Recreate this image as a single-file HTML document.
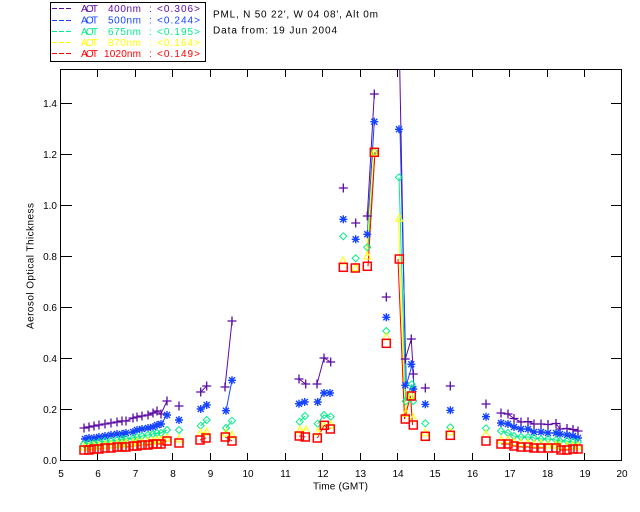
<!DOCTYPE html>
<html><head><meta charset="utf-8"><style>
html,body{margin:0;padding:0;background:#fff;}
svg{display:block;}
text{font-family:"Liberation Sans",sans-serif;font-size:10px;}
</style></head><body>
<svg width="640" height="512" viewBox="0 0 640 512" xmlns="http://www.w3.org/2000/svg">
<defs>
<path id="mP" d="M-4.5,0H4.5M0,-4.5V4.5" stroke="#5c0aa5" stroke-width="1.3" fill="none"/>
<path id="mB" d="M-4,0H4M0,-4V4M-3,-3L3,3M-3,3L3,-3" stroke="#1444ff" stroke-width="1.4" fill="none"/>
<path id="mG" d="M0,-3.5L3.5,0L0,3.5L-3.5,0Z" stroke="#00ee88" stroke-width="1" fill="none"/>
<path id="mY" d="M0,-4L3.5,3H-3.5Z" stroke="#ffff00" stroke-width="1" fill="none"/>
<rect id="mR" x="-4" y="-4" width="8" height="8" stroke="#ff0000" stroke-width="1.5" fill="none"/>
<clipPath id="clip"><rect x="60" y="69" width="562" height="392"/></clipPath>
</defs>
<rect width="640" height="512" fill="#fff"/>

<!-- legend -->
<rect x="50.5" y="2.5" width="155" height="59" fill="none" stroke="#000" stroke-width="1"/>
<g stroke-width="1" stroke-dasharray="5,2">
<line x1="52" y1="8.5" x2="72" y2="8.5" stroke="#5c0aa5"/>
<line x1="52" y1="20.5" x2="72" y2="20.5" stroke="#1444ff"/>
<line x1="52" y1="31.5" x2="72" y2="31.5" stroke="#00ee88"/>
<line x1="52" y1="42.5" x2="72" y2="42.5" stroke="#ffff00"/>
<line x1="52" y1="53.5" x2="72" y2="53.5" stroke="#ff0000"/>
</g>
<g>
<text x="81" y="12" fill="#5c0aa5" textLength="17">AOT</text><text x="108" y="12" fill="#5c0aa5" textLength="33">400nm</text><text x="149" y="12" fill="#5c0aa5">:</text><text x="157" y="12" fill="#5c0aa5" textLength="43">&lt;0.306&gt;</text>
<text x="81" y="23.5" fill="#1444ff" textLength="17">AOT</text><text x="108" y="23.5" fill="#1444ff" textLength="33">500nm</text><text x="149" y="23.5" fill="#1444ff">:</text><text x="157" y="23.5" fill="#1444ff" textLength="43">&lt;0.244&gt;</text>
<text x="81" y="35" fill="#00ee88" textLength="17">AOT</text><text x="108" y="35" fill="#00ee88" textLength="33">675nm</text><text x="149" y="35" fill="#00ee88">:</text><text x="157" y="35" fill="#00ee88" textLength="43">&lt;0.195&gt;</text>
<text x="81" y="46" fill="#ffff00" textLength="17">AOT</text><text x="108" y="46" fill="#ffff00" textLength="33">870nm</text><text x="149" y="46" fill="#ffff00">:</text><text x="157" y="46" fill="#ffff00" textLength="43">&lt;0.164&gt;</text>
<text x="81" y="57" fill="#ff0000" textLength="17">AOT</text><text x="104" y="57" fill="#ff0000" textLength="37">1020nm</text><text x="149" y="57" fill="#ff0000">:</text><text x="157" y="57" fill="#ff0000" textLength="43">&lt;0.149&gt;</text>
</g>
<text x="213" y="17.5" fill="#000" textLength="165">PML, N 50 22', W 04 08', Alt 0m</text>
<text x="213" y="33.5" fill="#000" textLength="124">Data from: 19 Jun 2004</text>

<!-- axes -->
<g stroke="#000" stroke-width="1" shape-rendering="crispEdges" fill="none">
<rect x="60.5" y="69.5" width="561" height="391"/>
<path d="M60,460.5H72M60,409.5H72M60,358.5H72M60,307.5H72M60,256.5H72M60,205.5H72M60,154.5H72M60,103.5H72"/>
<path d="M622,460.5H611M622,409.5H611M622,358.5H611M622,307.5H611M622,256.5H611M622,205.5H611M622,154.5H611M622,103.5H611"/>
<path d="M97.5,461V453M135.5,461V453M172.5,461V453M210.5,461V453M247.5,461V453M285.5,461V453M322.5,461V453M360.5,461V453M397.5,461V453M434.5,461V453M472.5,461V453M509.5,461V453M547.5,461V453M584.5,461V453"/>
<path d="M97.5,69V77M135.5,69V77M172.5,69V77M210.5,69V77M247.5,69V77M285.5,69V77M322.5,69V77M360.5,69V77M397.5,69V77M434.5,69V77M472.5,69V77M509.5,69V77M547.5,69V77M584.5,69V77"/>
</g>
<g fill="#000" text-anchor="end">
<text x="57" y="464">0.0</text>
<text x="57" y="413">0.2</text>
<text x="57" y="362">0.4</text>
<text x="57" y="311">0.6</text>
<text x="57" y="260">0.8</text>
<text x="57" y="209">1.0</text>
<text x="57" y="158">1.2</text>
<text x="57" y="107">1.4</text>
</g>
<g fill="#000" text-anchor="middle">
<text x="61" y="477">5</text>
<text x="98" y="477">6</text>
<text x="135.5" y="477">7</text>
<text x="173" y="477">8</text>
<text x="210.5" y="477">9</text>
<text x="248" y="477">10</text>
<text x="285.5" y="477">11</text>
<text x="323" y="477">12</text>
<text x="360.5" y="477">13</text>
<text x="398" y="477">14</text>
<text x="435" y="477">15</text>
<text x="472.5" y="477">16</text>
<text x="510" y="477">17</text>
<text x="547.5" y="477">18</text>
<text x="585" y="477">19</text>
<text x="622" y="477">20</text>
<text x="340.5" y="489.5" textLength="55">Time (GMT)</text>
</g>
<text transform="translate(33.5,266) rotate(-90)" text-anchor="middle" fill="#000" textLength="126">Aerosol Optical Thickness</text>

<g clip-path="url(#clip)" fill="none" stroke-width="1">
<g stroke="#5c0aa5">
<polyline points="84,428 89,427 94,426 99,425 105,424 111,423 117,422 122,421 126,421 133,418 137,417 142,416 148,415 153,413 157,411 161,414 167,401"/>
<polyline points="200.7,392 206.7,386"/>
<polyline points="225,387 232,321"/>
<polyline points="299,379 305.7,384"/>
<polyline points="317,384 324,358 330.7,362"/>
<polyline points="367.3,216 374.3,94"/>
<polyline points="399,30 405.3,359 411.3,339 413.3,374"/>
<polyline points="501,413 508,414 514,418.5 521,422 528,421.7 534,424 541,424 548,424.5 556,423.5 560,429 567,428.5 573,429.5 578,431"/>
</g>
<g stroke="#1444ff">
<polyline points="85,439 89,438 94,438 99,437 105,436 111,435 117,434 122,434 126,433 133,432 137,430 142,429 148,428 153,427 157,425 161,424 167,415"/>
<polyline points="200.7,409 206.7,405"/>
<polyline points="226,410.7 232,380.3"/>
<polyline points="299,403.7 304.7,402"/>
<polyline points="317.7,402 324,393 330,393"/>
<polyline points="367.3,234.3 374.3,121.7"/>
<polyline points="400,129.3 406.3,385.3 412.3,364.3 414.3,389"/>
<polyline points="501,423 508,424 514,427 521,429 528,429 534,432 541,432 548,433 556,433 560,434 567,435 573,436 578,438"/>
</g>
<g stroke="#00ee88">
<polyline points="84,444 89,443 94,443 99,442 105,441 111,441 117,440 122,439 126,439 133,438 137,437 142,436 148,435 153,434 157,433 161,433 167,430"/>
<polyline points="200.7,425.7 206.7,420"/>
<polyline points="226,428 232,420.7"/>
<polyline points="299.7,421.7 305,416"/>
<polyline points="317.7,423.7 324,415 330.7,416.7"/>
<polyline points="368,247.3 375,152"/>
<polyline points="399,177.3 405.7,401.3 411.7,384.3 413.3,401"/>
<polyline points="501,431 508,433 514,436 521,437 528,437 534,438 541,439 548,439 556,440 560,441 567,441 573,442 578,442"/>
</g>
<g stroke="#ffff00">
<polyline points="84,447 89,447 94,446 99,446 105,445 111,445 117,444 122,444 126,443 133,443 137,442 142,442 148,441 153,441 157,440 161,440 167,438"/>
<polyline points="200.7,433 206.7,432"/>
<polyline points="226,433 232,435"/>
<polyline points="300,430 306,430"/>
<polyline points="318,431.7 324,426 331,425"/>
<polyline points="366.5,256 373.5,152"/>
<polyline points="398.5,218.3 404.9,413.3 410.2,395.3 412.5,418.3"/>
<polyline points="501,440 508,440 514,442 521,443 528,443 534,444 541,444 548,445 556,445 560,446 567,446 573,446 578,446"/>
</g>
<g stroke="#ff0000">
<polyline points="84,450 89,450 94,449 99,449 105,448 111,448 117,447 122,447 126,447 133,446 137,446 142,445 148,445 153,444 157,444 161,444 167,441"/>
<polyline points="200,440 206,438"/>
<polyline points="225.3,437 232,441"/>
<polyline points="299.3,436 305.3,437"/>
<polyline points="317.3,438 324.3,425.3 330.3,429"/>
<polyline points="368,266.3 375,152.3"/>
<polyline points="398,259 404.5,419 410.5,396 412.5,425"/>
<polyline points="501,444 508,444 514,446 521,447 528,447 534,448 541,448 548,448 556,448 561,450 567,450 573,449 578,449"/>
</g>
</g>

<g>
<use href="#mP" x="84" y="428"/><use href="#mP" x="89" y="427"/><use href="#mP" x="94" y="426"/><use href="#mP" x="99" y="425"/><use href="#mP" x="105" y="424"/><use href="#mP" x="111" y="423"/><use href="#mP" x="117" y="422"/><use href="#mP" x="122" y="421"/><use href="#mP" x="126" y="421"/><use href="#mP" x="133" y="418"/><use href="#mP" x="137" y="417"/><use href="#mP" x="142" y="416"/><use href="#mP" x="148" y="415"/><use href="#mP" x="153" y="413"/><use href="#mP" x="157" y="411"/><use href="#mP" x="161" y="414"/><use href="#mP" x="167" y="401"/>
<use href="#mP" x="179" y="406"/><use href="#mP" x="200.7" y="392"/><use href="#mP" x="206.7" y="386"/><use href="#mP" x="225" y="387"/><use href="#mP" x="232" y="321"/>
<use href="#mP" x="299" y="379"/><use href="#mP" x="305.7" y="384"/><use href="#mP" x="317" y="384"/><use href="#mP" x="324" y="358"/><use href="#mP" x="330.7" y="362"/>
<use href="#mP" x="343.3" y="188"/><use href="#mP" x="355.7" y="223"/><use href="#mP" x="367.3" y="216"/><use href="#mP" x="374.3" y="94"/><use href="#mP" x="386.3" y="297"/>
<use href="#mP" x="405.3" y="359"/><use href="#mP" x="411.3" y="339"/><use href="#mP" x="413.3" y="374"/>
<use href="#mP" x="425.3" y="388"/><use href="#mP" x="450.3" y="386"/><use href="#mP" x="486" y="404"/>
<use href="#mP" x="501" y="413"/><use href="#mP" x="508" y="414"/><use href="#mP" x="514" y="418.5"/><use href="#mP" x="521" y="422"/><use href="#mP" x="528" y="421.7"/><use href="#mP" x="534" y="424"/><use href="#mP" x="541" y="424"/><use href="#mP" x="548" y="424.5"/><use href="#mP" x="556" y="423.5"/><use href="#mP" x="560" y="429"/><use href="#mP" x="567" y="428.5"/><use href="#mP" x="573" y="429.5"/><use href="#mP" x="578" y="431"/>
</g>
<g>
<use href="#mB" x="85" y="439"/><use href="#mB" x="89" y="438"/><use href="#mB" x="94" y="438"/><use href="#mB" x="99" y="437"/><use href="#mB" x="105" y="436"/><use href="#mB" x="111" y="435"/><use href="#mB" x="117" y="434"/><use href="#mB" x="122" y="434"/><use href="#mB" x="126" y="433"/><use href="#mB" x="133" y="432"/><use href="#mB" x="137" y="430"/><use href="#mB" x="142" y="429"/><use href="#mB" x="148" y="428"/><use href="#mB" x="153" y="427"/><use href="#mB" x="157" y="425"/><use href="#mB" x="161" y="424"/><use href="#mB" x="167" y="415"/>
<use href="#mB" x="179" y="420"/><use href="#mB" x="200.7" y="409"/><use href="#mB" x="206.7" y="405"/><use href="#mB" x="226" y="410.7"/><use href="#mB" x="232" y="380.3"/>
<use href="#mB" x="299" y="403.7"/><use href="#mB" x="304.7" y="402"/><use href="#mB" x="317.7" y="402"/><use href="#mB" x="324" y="393"/><use href="#mB" x="330" y="393"/>
<use href="#mB" x="343.3" y="219.3"/><use href="#mB" x="355.7" y="239.3"/><use href="#mB" x="367.3" y="234.3"/><use href="#mB" x="374.3" y="121.7"/><use href="#mB" x="386.3" y="317.3"/>
<use href="#mB" x="399" y="129.3"/><use href="#mB" x="405.3" y="385.3"/><use href="#mB" x="411.3" y="364.3"/><use href="#mB" x="413.3" y="389"/>
<use href="#mB" x="425.3" y="404.3"/><use href="#mB" x="450.3" y="410.3"/><use href="#mB" x="486" y="416.7"/>
<use href="#mB" x="501" y="423"/><use href="#mB" x="508" y="424"/><use href="#mB" x="514" y="427"/><use href="#mB" x="521" y="429"/><use href="#mB" x="528" y="429"/><use href="#mB" x="534" y="432"/><use href="#mB" x="541" y="432"/><use href="#mB" x="548" y="433"/><use href="#mB" x="556" y="433"/><use href="#mB" x="560" y="434"/><use href="#mB" x="567" y="435"/><use href="#mB" x="573" y="436"/><use href="#mB" x="578" y="438"/>
</g>
<g>
<use href="#mG" x="84" y="444"/><use href="#mG" x="89" y="443"/><use href="#mG" x="94" y="443"/><use href="#mG" x="99" y="442"/><use href="#mG" x="105" y="441"/><use href="#mG" x="111" y="441"/><use href="#mG" x="117" y="440"/><use href="#mG" x="122" y="439"/><use href="#mG" x="126" y="439"/><use href="#mG" x="133" y="438"/><use href="#mG" x="137" y="437"/><use href="#mG" x="142" y="436"/><use href="#mG" x="148" y="435"/><use href="#mG" x="153" y="434"/><use href="#mG" x="157" y="433"/><use href="#mG" x="161" y="433"/><use href="#mG" x="167" y="430"/>
<use href="#mG" x="179" y="430"/><use href="#mG" x="200.7" y="425.7"/><use href="#mG" x="206.7" y="420"/><use href="#mG" x="226" y="428"/><use href="#mG" x="232" y="420.7"/>
<use href="#mG" x="299.7" y="421.7"/><use href="#mG" x="305" y="416"/><use href="#mG" x="317.7" y="423.7"/><use href="#mG" x="324" y="415"/><use href="#mG" x="330.7" y="416.7"/>
<use href="#mG" x="343.3" y="236.3"/><use href="#mG" x="355.7" y="258.3"/><use href="#mG" x="367.3" y="247.3"/><use href="#mG" x="374.3" y="152"/><use href="#mG" x="386.3" y="331"/>
<use href="#mG" x="399" y="177.3"/><use href="#mG" x="405.7" y="401.3"/><use href="#mG" x="411.7" y="384.3"/><use href="#mG" x="413.3" y="401"/>
<use href="#mG" x="425.3" y="423.3"/><use href="#mG" x="450.3" y="427.3"/><use href="#mG" x="486" y="428.3"/>
<use href="#mG" x="501" y="431"/><use href="#mG" x="508" y="433"/><use href="#mG" x="514" y="436"/><use href="#mG" x="521" y="437"/><use href="#mG" x="528" y="437"/><use href="#mG" x="534" y="438"/><use href="#mG" x="541" y="439"/><use href="#mG" x="548" y="439"/><use href="#mG" x="556" y="440"/><use href="#mG" x="560" y="441"/><use href="#mG" x="567" y="441"/><use href="#mG" x="573" y="442"/><use href="#mG" x="578" y="442"/>
</g>
<g>
<use href="#mY" x="84" y="447"/><use href="#mY" x="89" y="447"/><use href="#mY" x="94" y="446"/><use href="#mY" x="99" y="446"/><use href="#mY" x="105" y="445"/><use href="#mY" x="111" y="445"/><use href="#mY" x="117" y="444"/><use href="#mY" x="122" y="444"/><use href="#mY" x="126" y="443"/><use href="#mY" x="133" y="443"/><use href="#mY" x="137" y="442"/><use href="#mY" x="142" y="442"/><use href="#mY" x="148" y="441"/><use href="#mY" x="153" y="441"/><use href="#mY" x="157" y="440"/><use href="#mY" x="161" y="440"/><use href="#mY" x="167" y="438"/>
<use href="#mY" x="179" y="439"/><use href="#mY" x="200.7" y="433"/><use href="#mY" x="206.7" y="432"/><use href="#mY" x="226" y="433"/><use href="#mY" x="232" y="435"/>
<use href="#mY" x="300" y="430"/><use href="#mY" x="306" y="430"/><use href="#mY" x="318" y="431.7"/><use href="#mY" x="324" y="426"/><use href="#mY" x="331" y="425"/>
<use href="#mY" x="343" y="261"/><use href="#mY" x="355.7" y="267.7"/><use href="#mY" x="367.3" y="256"/><use href="#mY" x="374.3" y="152"/><use href="#mY" x="386.3" y="336.7"/>
<use href="#mY" x="399.3" y="218.3"/><use href="#mY" x="405.7" y="413.3"/><use href="#mY" x="411" y="395.3"/><use href="#mY" x="413.3" y="418.3"/>
<use href="#mY" x="425.3" y="432.7"/><use href="#mY" x="450.3" y="431.7"/><use href="#mY" x="486" y="434"/>
<use href="#mY" x="501" y="440"/><use href="#mY" x="508" y="440"/><use href="#mY" x="514" y="442"/><use href="#mY" x="521" y="443"/><use href="#mY" x="528" y="443"/><use href="#mY" x="534" y="444"/><use href="#mY" x="541" y="444"/><use href="#mY" x="548" y="445"/><use href="#mY" x="556" y="445"/><use href="#mY" x="560" y="446"/><use href="#mY" x="567" y="446"/><use href="#mY" x="573" y="446"/><use href="#mY" x="578" y="446"/>
</g>
<g>
<use href="#mR" x="84" y="450"/><use href="#mR" x="89" y="450"/><use href="#mR" x="94" y="449"/><use href="#mR" x="99" y="449"/><use href="#mR" x="105" y="448"/><use href="#mR" x="111" y="448"/><use href="#mR" x="117" y="447"/><use href="#mR" x="122" y="447"/><use href="#mR" x="126" y="447"/><use href="#mR" x="133" y="446"/><use href="#mR" x="137" y="446"/><use href="#mR" x="142" y="445"/><use href="#mR" x="148" y="445"/><use href="#mR" x="153" y="444"/><use href="#mR" x="157" y="444"/><use href="#mR" x="161" y="444"/><use href="#mR" x="167" y="441"/>
<use href="#mR" x="179" y="443"/><use href="#mR" x="200" y="440"/><use href="#mR" x="206" y="438"/><use href="#mR" x="225.3" y="437"/><use href="#mR" x="232" y="441"/>
<use href="#mR" x="299.3" y="436"/><use href="#mR" x="305.3" y="437"/><use href="#mR" x="317.3" y="438"/><use href="#mR" x="324.3" y="425.3"/><use href="#mR" x="330.3" y="429"/>
<use href="#mR" x="343.3" y="267.3"/><use href="#mR" x="355.3" y="268"/><use href="#mR" x="367.3" y="266.3"/><use href="#mR" x="374.3" y="152.3"/><use href="#mR" x="386.3" y="343.3"/>
<use href="#mR" x="399.3" y="259"/><use href="#mR" x="405.3" y="419"/><use href="#mR" x="411.3" y="396"/><use href="#mR" x="413.3" y="425"/>
<use href="#mR" x="425.3" y="436.3"/><use href="#mR" x="450.3" y="435.3"/><use href="#mR" x="486" y="441"/>
<use href="#mR" x="501" y="444"/><use href="#mR" x="508" y="444"/><use href="#mR" x="514" y="446"/><use href="#mR" x="521" y="447"/><use href="#mR" x="528" y="447"/><use href="#mR" x="534" y="448"/><use href="#mR" x="541" y="448"/><use href="#mR" x="548" y="448"/><use href="#mR" x="556" y="448"/><use href="#mR" x="561" y="450"/><use href="#mR" x="567" y="450"/><use href="#mR" x="573" y="449"/><use href="#mR" x="578" y="449"/>
</g>
</svg>
</body></html>
